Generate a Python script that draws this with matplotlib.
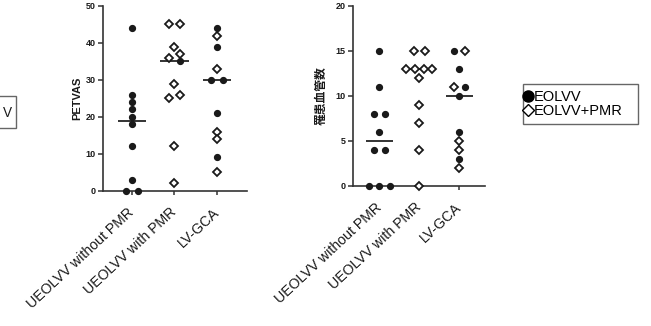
import matplotlib

matplotlib.use("Agg")
import matplotlib.pyplot as plt  # noqa: E402
from matplotlib.lines import Line2D  # noqa: E402
from matplotlib.patches import Rectangle  # noqa: E402
import numpy as np  # noqa: E402

plt.rcParams["font.family"] = ["Liberation Sans", "DejaVu Sans"]

groups = ["UEOLVV without PMR", "UEOLVV with PMR", "LV-GCA"]

# PETVAS per group; flag 1 = EOLVV+PMR (open diamond), 0 = EOLVV (filled dot)
petvas_g1 = [44, 26, 24, 22, 20, 18, 12, 3, 0, 0]
petvas_g1_pmr = [0, 0, 0, 0, 0, 0, 0, 0, 0, 0]
petvas_g2 = [45, 45, 39, 37, 36, 35, 29, 26, 25, 12, 2]
petvas_g2_pmr = [1, 1, 1, 1, 1, 0, 1, 1, 1, 1, 1]
petvas_g3 = [44, 42, 39, 33, 30, 30, 21, 16, 14, 9, 5]
petvas_g3_pmr = [0, 1, 0, 1, 0, 0, 0, 1, 1, 0, 1]

# number of affected vessels
vessels_g1 = [15, 11, 8, 8, 6, 4, 4, 0, 0, 0]
vessels_g1_pmr = [0, 0, 0, 0, 0, 0, 0, 0, 0, 0]
vessels_g2 = [15, 15, 13, 13, 13, 13, 12, 9, 7, 4, 0]
vessels_g2_pmr = [1, 1, 1, 1, 1, 1, 1, 1, 1, 1, 1]
vessels_g3 = [15, 15, 13, 11, 11, 10, 6, 5, 4, 3, 2]
vessels_g3_pmr = [1, 0, 0, 0, 1, 0, 0, 1, 1, 0, 1]

INK = "#1a1a1a"


def _swarm(vals, tol, slot):
    """Greedy column layout: colliding points go side by side, clusters re-centred."""
    vals = np.asarray(vals, dtype=float)
    order = np.argsort(-vals, kind="stable")
    off = np.zeros(len(vals))
    placed = []
    for i in order:
        for k in range(len(vals)):
            cand = 0.0 if k == 0 else (-1) ** k * ((k + 1) // 2) * slot
            if all(abs(vals[i] - vals[j]) >= tol or abs(off[j] - cand) > 1e-9 for j in placed):
                off[i] = cand
                break
        placed.append(i)
    srt = list(order[::-1])
    clusters, cur = [], [srt[0]]
    for a, b in zip(srt[:-1], srt[1:]):
        if abs(vals[b] - vals[a]) < tol:
            cur.append(b)
        else:
            clusters.append(cur)
            cur = [b]
    clusters.append(cur)
    for c in clusters:
        n = len(set(np.round(off[c], 6)))
        s = slot if n <= 3 else slot * 0.8
        scaled = off[c] * s / slot
        off[c] = scaled - (scaled.min() + scaled.max()) / 2
    return off


def _panel(ax, data, flags, ymax, ystep, ylabel, ylabel_kw, slot):
    tol = 0.03 * ymax
    for gi, (vals, pmr) in enumerate(zip(data, flags)):
        vals = np.asarray(vals, dtype=float)
        pmr = np.asarray(pmr, dtype=bool)
        x = gi + _swarm(vals, tol, slot)
        ax.plot(x[~pmr], vals[~pmr], "o", ms=4.2, color=INK, mec=INK, clip_on=False, zorder=3)
        ax.plot(x[pmr], vals[pmr], "D", ms=3.8, mfc="white", mec=INK, mew=1.3, clip_on=False, zorder=3)
        med = np.median(vals)
        ax.plot([gi - 0.34, gi + 0.34], [med, med], color="#333333", lw=1.4, zorder=2, solid_capstyle="butt")
    ax.set_ylim(0, ymax)
    ax.set_yticks(np.arange(0, ymax + 1, ystep))
    ax.set_xticks(range(len(groups)))
    ax.set_xticklabels(groups, rotation=43, ha="right", va="center", rotation_mode="anchor",
                       fontsize=10.2, color=INK)
    ax.set_ylabel(ylabel, color=INK, **ylabel_kw)
    for s in ("top", "right"):
        ax.spines[s].set_visible(False)
    for s in ("left", "bottom"):
        ax.spines[s].set_linewidth(1.2)
        ax.spines[s].set_color("#333333")
    ax.tick_params(axis="y", length=3.5, width=1.1, pad=1.5, labelsize=6.5, colors="#333333")
    ax.tick_params(axis="x", length=3, width=1.1, pad=11, colors="#333333")
    for lab in ax.get_yticklabels():
        lab.set_fontweight("bold")
        lab.set_color(INK)
    for lab in ax.get_xticklabels():
        lab.set_color(INK)


fig = plt.figure(figsize=(6.51, 3.26), dpi=100)
ax1 = fig.add_axes((0.1582, 0.415, 0.2212, 0.5666))
ax2 = fig.add_axes((0.5418, 0.4304, 0.2032, 0.552))

_panel(
    ax1,
    [petvas_g1, petvas_g2, petvas_g3],
    [petvas_g1_pmr, petvas_g2_pmr, petvas_g3_pmr],
    50, 10, "PETVAS",
    dict(fontsize=8, fontweight="bold", labelpad=3),
    0.275,
)
ax1.set_xlim(-0.682, 2.706)

_panel(
    ax2,
    [vessels_g1, vessels_g2, vessels_g3],
    [vessels_g1_pmr, vessels_g2_pmr, vessels_g3_pmr],
    20, 5, "罹患血管数",
    dict(fontsize=8.5, fontweight="bold", labelpad=6, family=["Noto Sans CJK JP", "DejaVu Sans"]),
    0.27,
)
ax2.set_xlim(-0.665, 2.64)

handles = [
    Line2D([], [], marker="o", ls="", color="black", ms=8),
    Line2D([], [], marker="D", ls="", mfc="white", mec="black", ms=6, mew=1.0),
]
fig.legend(
    handles, ["EOLVV", "EOLVV+PMR"],
    loc="center left", bbox_to_anchor=(524 / 651, 1 - 104 / 326),
    frameon=False, fontsize=10.5,
    handlelength=0.6, handletextpad=0.1, borderpad=0, labelspacing=0.05,
    borderaxespad=0,
)
# legend frame, wider than the entries as in the source figure
fig.patches.append(Rectangle((523 / 651, 1 - 124 / 326), 115 / 651, 40 / 326,
                             transform=fig.transFigure, fill=False, edgecolor="#666666", lw=1.0))

# edge of a neighbouring panel's legend box cut off at the left border
fig.patches.append(Rectangle((-0.05, 1 - 128 / 326), 0.05 + 16 / 651, 32 / 326,
                             transform=fig.transFigure, fill=False, edgecolor="#666666", lw=1.0))
fig.text(12 / 651, 1 - 113 / 326, "V", ha="right", va="center", fontsize=9.8, color=INK)

fig.savefig("out.png", dpi=100)
